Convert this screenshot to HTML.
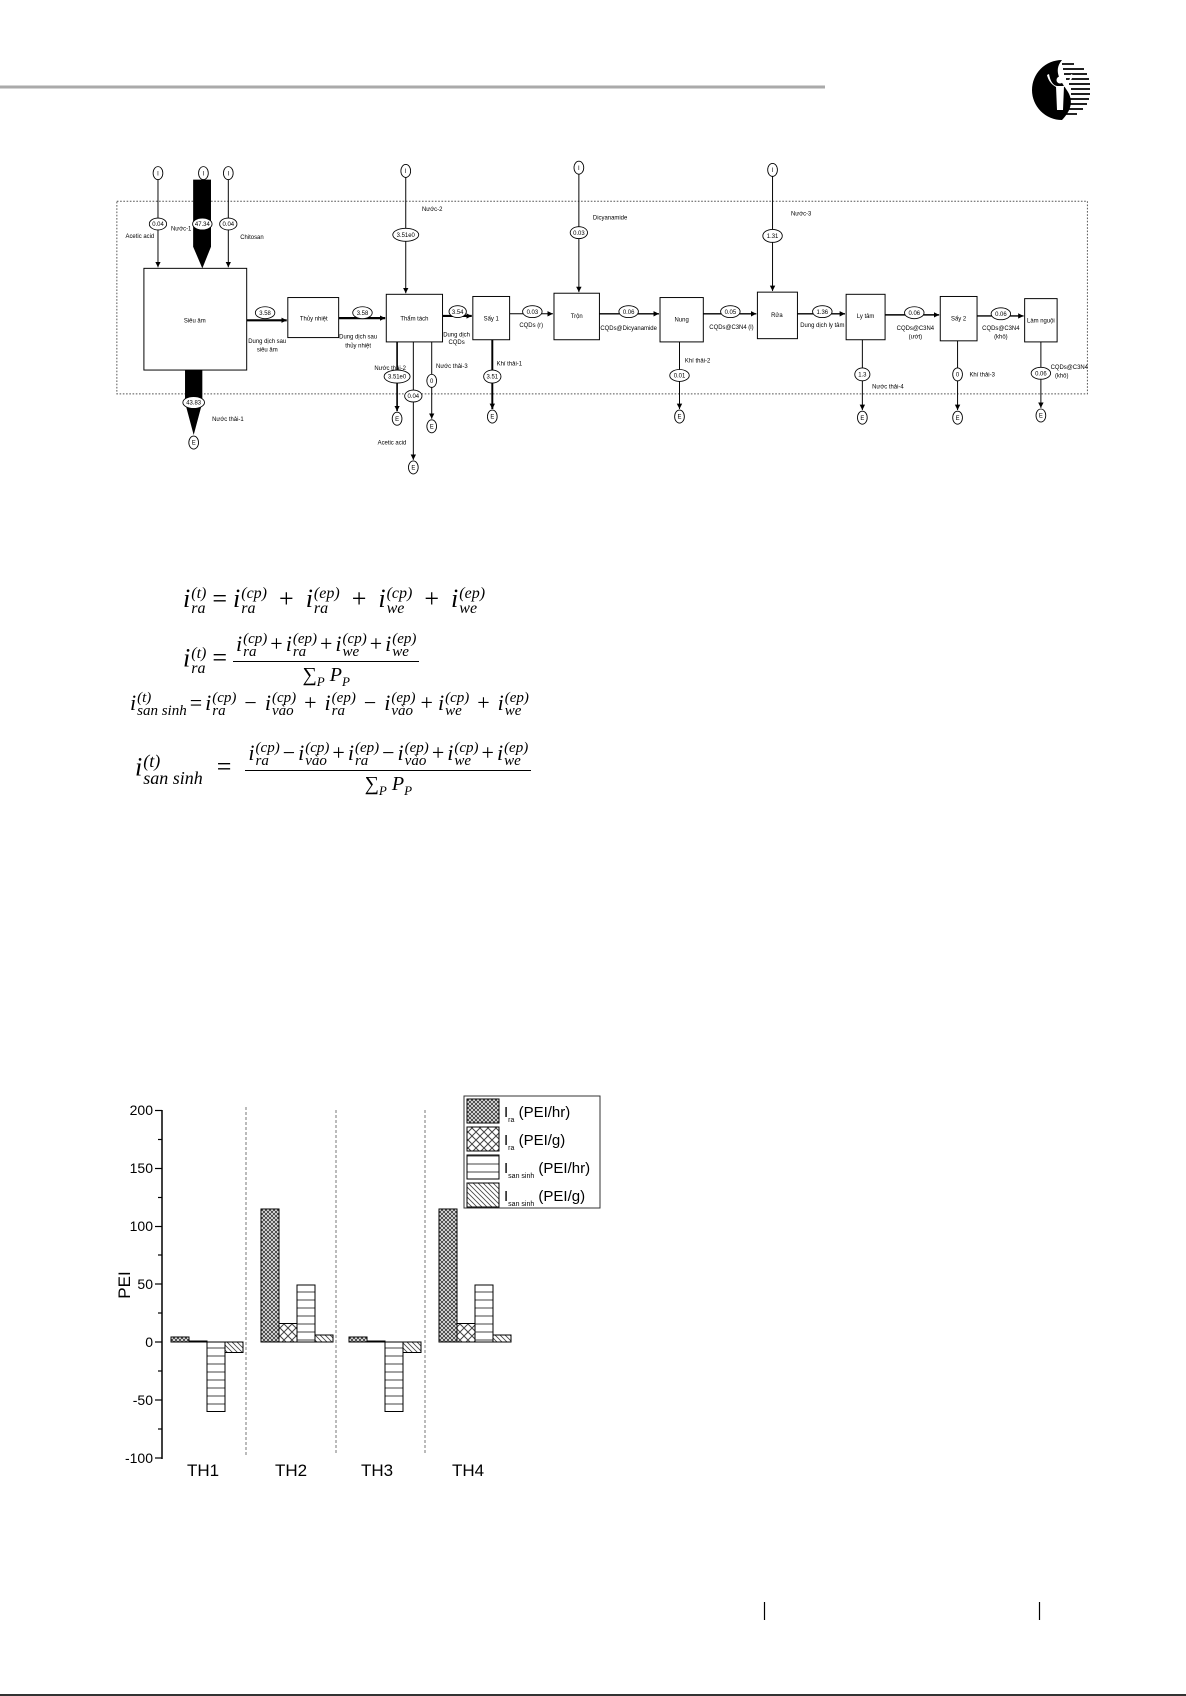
<!DOCTYPE html>
<html><head><meta charset="utf-8">
<style>
html,body{margin:0;padding:0;background:#fff;}
body{width:1186px;height:1696px;position:relative;overflow:hidden;}
svg{position:absolute;left:0;top:0;}
.eq{position:absolute;font-family:"Liberation Serif",serif;font-style:italic;font-size:26px;white-space:nowrap;line-height:1;color:#000}
.ss{display:inline-block;vertical-align:middle;font-size:16px;line-height:15px;text-align:left;margin-left:1px}
.ss span{display:block}
.op{font-style:normal;margin:0 6px}
.fr{display:inline-block;vertical-align:middle;text-align:center}
.num{border-bottom:1.5px solid #000;padding:0 3px 2px;display:block}
.den{display:block;padding-top:3px;font-size:20px}
.sm .ss{font-size:15px;line-height:13px}
.sm{font-size:22px}
</style></head>
<body>
<svg width="1186" height="1696" viewBox="0 0 1186 1696">
<line x1="0" y1="87" x2="825" y2="87" stroke="#aaa" stroke-width="3"/>
<!-- logo -->
<g transform="translate(1060,90)">
<g stroke="#000" stroke-width="1.7">
<line x1="2" y1="-26" x2="14" y2="-26"/><line x1="3" y1="-21" x2="24" y2="-21"/><line x1="4" y1="-16" x2="27" y2="-16"/><line x1="6" y1="-11" x2="29" y2="-11"/><line x1="9" y1="-6" x2="30" y2="-6"/><line x1="11" y1="-1" x2="30" y2="-1"/><line x1="11" y1="4" x2="30" y2="4"/><line x1="10" y1="9" x2="29" y2="9"/><line x1="8" y1="14" x2="27" y2="14"/><line x1="5" y1="19" x2="23" y2="19"/><line x1="2" y1="24" x2="17" y2="24"/>
</g>
<path d="M2,-30 A30,30 0 0 0 2,30 C10,22 14,12 8,2 C2,-8 -8,-18 2,-30Z" fill="#000"/>
<path d="M-4,-4 L4,-4 L3,20 L-3,20Z" fill="#fff"/>
<path d="M-11,-16 Q-9,-5 -3,-4 L-2,-2 Q-11,-6 -13,-15Z M11,-16 Q9,-5 3,-4 L2,-2 Q11,-6 13,-15Z" fill="#fff"/>
<circle cx="0" cy="-10" r="3.5" fill="#fff"/>
</g>

<g transform="scale(1.082)" font-family="Liberation Sans, sans-serif" font-size="6.5" fill="#000">
<defs>
<marker id="a" markerWidth="6" markerHeight="6" refX="5" refY="3" orient="auto" markerUnits="userSpaceOnUse"><path d="M0,0.5 L5,3 L0,5.5Z" fill="#000"/></marker>
</defs>
<rect x="108" y="186" width="897" height="178" fill="none" stroke="#555" stroke-width="0.9" stroke-dasharray="1.5,1.5"/>
<g fill="none" stroke="#000" stroke-width="0.9">
<rect x="133" y="248" width="95" height="94" fill="#fff"/>
<rect x="266" y="275" width="47" height="37"/>
<rect x="357" y="272" width="52" height="44"/>
<rect x="437" y="274" width="34" height="40"/>
<rect x="512" y="271" width="42" height="43"/>
<rect x="610" y="275" width="40" height="41"/>
<rect x="700" y="270" width="37" height="43"/>
<rect x="782" y="272" width="36" height="42"/>
<rect x="869" y="274" width="34" height="41"/>
<rect x="947" y="276" width="30" height="40"/>
<line x1="146" y1="166" x2="146" y2="247" marker-end="url(#a)"/>
<line x1="211" y1="166" x2="211" y2="247" marker-end="url(#a)"/>
<line x1="375" y1="164" x2="375" y2="271" marker-end="url(#a)"/>
<line x1="535" y1="161" x2="535" y2="270" marker-end="url(#a)"/>
<line x1="714" y1="163" x2="714" y2="269" marker-end="url(#a)"/>
<line x1="228" y1="296" x2="265" y2="296" stroke-width="2" marker-end="url(#a)"/>
<line x1="313" y1="294" x2="356" y2="294" stroke-width="2" marker-end="url(#a)"/>
<line x1="409" y1="292" x2="436" y2="292" stroke-width="2" marker-end="url(#a)"/>
<line x1="471" y1="290" x2="511" y2="290" marker-end="url(#a)"/>
<line x1="554" y1="290" x2="609" y2="290" stroke-width="1.3" marker-end="url(#a)"/>
<line x1="650" y1="290" x2="699" y2="290" stroke-width="1.3" marker-end="url(#a)"/>
<line x1="737" y1="290" x2="781" y2="290" stroke-width="1.3" marker-end="url(#a)"/>
<line x1="818" y1="291" x2="868" y2="291" stroke-width="1.3" marker-end="url(#a)"/>
<line x1="903" y1="292" x2="946" y2="292" stroke-width="1.3" marker-end="url(#a)"/>
<line x1="367" y1="316" x2="367" y2="380" stroke-width="1.5" marker-end="url(#a)"/>
<line x1="382" y1="316" x2="382" y2="425" marker-end="url(#a)"/>
<line x1="399" y1="316" x2="399" y2="387" marker-end="url(#a)"/>
<line x1="455" y1="314" x2="455" y2="378" stroke-width="1.8" marker-end="url(#a)"/>
<line x1="628" y1="316" x2="628" y2="378" marker-end="url(#a)"/>
<line x1="797" y1="314" x2="797" y2="379" marker-end="url(#a)"/>
<line x1="885" y1="315" x2="885" y2="379" marker-end="url(#a)"/>
<line x1="962" y1="316" x2="962" y2="377" marker-end="url(#a)"/>
</g>
<path d="M178.5,166 H195 V228 L187,248 L178.5,228Z" fill="#000"/>
<path d="M171,342 H187 V372 L179,402 L171,372Z" fill="#000"/>
<g fill="#fff" stroke="#000" stroke-width="0.8">
<ellipse cx="146" cy="160" rx="4.5" ry="6"/><ellipse cx="188" cy="160" rx="4.5" ry="6"/><ellipse cx="211" cy="160" rx="4.5" ry="6"/>
<ellipse cx="375" cy="158" rx="4.5" ry="6"/><ellipse cx="535" cy="155" rx="4.5" ry="6"/><ellipse cx="714" cy="157" rx="4.5" ry="6"/>
<ellipse cx="179" cy="409" rx="4.5" ry="6"/><ellipse cx="367" cy="387" rx="4.5" ry="6"/><ellipse cx="382" cy="432" rx="4.5" ry="6"/><ellipse cx="399" cy="394" rx="4.5" ry="6"/>
<ellipse cx="455" cy="385" rx="4.5" ry="6"/><ellipse cx="628" cy="385" rx="4.5" ry="6"/><ellipse cx="797" cy="386" rx="4.5" ry="6"/><ellipse cx="885" cy="386" rx="4.5" ry="6"/><ellipse cx="962" cy="384" rx="4.5" ry="6"/>
<ellipse cx="146" cy="207" rx="8" ry="5.5"/><ellipse cx="187" cy="207" rx="9" ry="5.5"/><ellipse cx="211" cy="207" rx="8" ry="5.5"/>
<ellipse cx="179" cy="372" rx="10" ry="5.5"/>
<ellipse cx="245" cy="289" rx="9" ry="5.5"/><ellipse cx="335" cy="289" rx="9" ry="5.5"/>
<ellipse cx="375" cy="217" rx="12" ry="6"/>
<ellipse cx="423" cy="288" rx="8" ry="5.5"/>
<ellipse cx="367" cy="348" rx="12" ry="6"/><ellipse cx="382" cy="366" rx="8" ry="5.5"/><ellipse cx="399" cy="352" rx="4.5" ry="6"/>
<ellipse cx="455" cy="348" rx="8" ry="6"/>
<ellipse cx="492" cy="288" rx="9" ry="5.5"/><ellipse cx="535" cy="215" rx="8" ry="5.5"/>
<ellipse cx="581" cy="288" rx="9" ry="5.5"/><ellipse cx="628" cy="347" rx="9" ry="5.5"/>
<ellipse cx="675" cy="288" rx="9" ry="5.5"/><ellipse cx="714" cy="218" rx="9" ry="6"/>
<ellipse cx="760" cy="288" rx="9" ry="5.5"/><ellipse cx="797" cy="346" rx="7" ry="6"/>
<ellipse cx="845" cy="289" rx="9" ry="5.5"/><ellipse cx="885" cy="346" rx="4.5" ry="6"/>
<ellipse cx="925" cy="290" rx="9" ry="5.5"/><ellipse cx="962" cy="345" rx="9" ry="5.5"/>
</g>
<g text-anchor="middle" font-size="5.5">
<text x="146" y="162">I</text><text x="188" y="162">I</text><text x="211" y="162">I</text><text x="375" y="160">I</text><text x="535" y="157">I</text><text x="714" y="159">I</text>
<text x="179" y="411">E</text><text x="367" y="389">E</text><text x="382" y="434">E</text><text x="399" y="396">E</text><text x="455" y="387">E</text><text x="628" y="387">E</text><text x="797" y="388">E</text><text x="885" y="388">E</text><text x="962" y="386">E</text>
<text x="146" y="209">0.04</text><text x="187" y="209">47.34</text><text x="211" y="209">0.04</text><text x="179" y="374">43.83</text>
<text x="245" y="291">3.58</text><text x="335" y="291">3.58</text><text x="375" y="219">3.51e0</text><text x="423" y="290">3.54</text>
<text x="367" y="350">3.51e0</text><text x="382" y="368">0.04</text><text x="399" y="354">0</text><text x="455" y="350">3.51</text>
<text x="492" y="290">0.03</text><text x="535" y="217">0.03</text><text x="581" y="290">0.06</text><text x="628" y="349">0.01</text>
<text x="675" y="290">0.05</text><text x="714" y="220">1.31</text><text x="760" y="290">1.36</text><text x="797" y="348">1.3</text>
<text x="845" y="291">0.06</text><text x="885" y="348">0</text><text x="925" y="292">0.06</text><text x="962" y="347">0.06</text>
<text x="180" y="298">Siêu âm</text><text x="290" y="296">Thủy nhiệt</text><text x="383" y="296">Thẩm tách</text><text x="454" y="296">Sấy 1</text>
<text x="533" y="294">Trộn</text><text x="630" y="297">Nung</text><text x="718" y="293">Rửa</text><text x="800" y="294">Ly tâm</text><text x="886" y="296">Sấy 2</text><text x="962" y="298">Làm nguội</text>
<text x="247" y="317">Dung dịch sau</text><text x="247" y="325">siêu âm</text>
<text x="331" y="313">Dung dịch sau</text><text x="331" y="321">thủy nhiệt</text>
<text x="422" y="311">Dung dịch</text><text x="422" y="318">CQDs</text>
<text x="491" y="302">CQDs (r)</text><text x="581" y="305">CQDs@Dicyanamide</text><text x="676" y="304">CQDs@C3N4 (l)</text>
<text x="760" y="302">Dung dịch ly tâm</text>
<text x="846" y="305">CQDs@C3N4</text><text x="846" y="313">(ướt)</text>
<text x="925" y="305">CQDs@C3N4</text><text x="925" y="313">(khô)</text>
</g>
<g font-size="5.5">
<text x="116" y="220">Acetic acid</text><text x="158" y="213">Nước-1</text><text x="222" y="221">Chitosan</text>
<text x="196" y="389">Nước thải-1</text><text x="390" y="195">Nước-2</text>
<text x="346" y="342">Nước thải-2</text><text x="349" y="411">Acetic acid</text><text x="403" y="340">Nước thải-3</text>
<text x="459" y="338">Khí thải-1</text><text x="548" y="203">Dicyanamide</text><text x="633" y="335">Khí thải-2</text>
<text x="731" y="199">Nước-3</text><text x="806" y="359">Nước thải-4</text><text x="896" y="348">Khí thải-3</text>
<text x="971" y="341">CQDs@C3N4</text><text x="975" y="349">(khô)</text>
</g>
</g>

<defs>
<pattern id="p1" width="4" height="4" patternUnits="userSpaceOnUse"><rect width="4" height="4" fill="#fff"/><path d="M0,0 L4,4 M4,0 L0,4" stroke="#444" stroke-width="1"/></pattern>
<pattern id="p2" width="8" height="8" patternUnits="userSpaceOnUse"><rect width="8" height="8" fill="#fff"/><path d="M0,0 L8,8 M8,0 L0,8" stroke="#444" stroke-width="1"/></pattern>
<pattern id="p3" width="10" height="8" patternUnits="userSpaceOnUse"><rect width="10" height="8" fill="#fff"/><line x1="0" y1="4" x2="10" y2="4" stroke="#444" stroke-width="1"/></pattern>
<pattern id="p4" width="5" height="5" patternUnits="userSpaceOnUse"><rect width="5" height="5" fill="#fff"/><path d="M0,0 L5,5 M-1,4 L1,6 M4,-1 L6,1" stroke="#444" stroke-width="0.8"/></pattern>
</defs>
<g font-family="Liberation Sans, sans-serif" fill="#000">
<line x1="162" y1="1110" x2="162" y2="1459" stroke="#000" stroke-width="1.5"/>
<g stroke="#000" stroke-width="1.2">
<line x1="155" y1="1110.5" x2="162" y2="1110.5"/><line x1="155" y1="1168.5" x2="162" y2="1168.5"/><line x1="155" y1="1226.5" x2="162" y2="1226.5"/><line x1="155" y1="1284" x2="162" y2="1284"/><line x1="155" y1="1342" x2="162" y2="1342"/><line x1="155" y1="1400" x2="162" y2="1400"/><line x1="155" y1="1458" x2="162" y2="1458"/>
<line x1="158" y1="1139.5" x2="162" y2="1139.5"/><line x1="158" y1="1197.5" x2="162" y2="1197.5"/><line x1="158" y1="1255" x2="162" y2="1255"/><line x1="158" y1="1313" x2="162" y2="1313"/><line x1="158" y1="1371" x2="162" y2="1371"/><line x1="158" y1="1429" x2="162" y2="1429"/>
</g>
<g font-size="14" text-anchor="end">
<text x="153" y="1115">200</text><text x="153" y="1173">150</text><text x="153" y="1231">100</text><text x="153" y="1289">50</text><text x="153" y="1347">0</text><text x="153" y="1405">-50</text><text x="153" y="1463">-100</text>
</g>
<text x="0" y="0" font-size="17" transform="translate(130,1285) rotate(-90)" text-anchor="middle">PEI</text>
<g stroke="#777" stroke-width="1" stroke-dasharray="3,2">
<line x1="246" y1="1107" x2="246" y2="1455"/><line x1="336" y1="1110" x2="336" y2="1455"/><line x1="425" y1="1110" x2="425" y2="1455"/>
</g>
<g stroke="#000" stroke-width="1">
<rect x="171" y="1337" width="18" height="5" fill="url(#p1)"/>
<rect x="189" y="1341" width="18" height="1" fill="#000"/>
<rect x="207" y="1342" width="18" height="69.5" fill="url(#p3)"/>
<rect x="225" y="1342" width="18" height="10.5" fill="url(#p4)"/>
<rect x="261" y="1209" width="18" height="133" fill="url(#p1)"/>
<rect x="279" y="1323.5" width="18" height="18.5" fill="url(#p2)"/>
<rect x="297" y="1285" width="18" height="57" fill="url(#p3)"/>
<rect x="315" y="1335" width="18" height="7" fill="url(#p4)"/>
<rect x="349" y="1337" width="18" height="5" fill="url(#p1)"/>
<rect x="367" y="1341" width="18" height="1" fill="#000"/>
<rect x="385" y="1342" width="18" height="69.5" fill="url(#p3)"/>
<rect x="403" y="1342" width="18" height="10.5" fill="url(#p4)"/>
<rect x="439" y="1209" width="18" height="133" fill="url(#p1)"/>
<rect x="457" y="1323.5" width="18" height="18.5" fill="url(#p2)"/>
<rect x="475" y="1285" width="18" height="57" fill="url(#p3)"/>
<rect x="493" y="1335" width="18" height="7" fill="url(#p4)"/>
</g>
<g font-size="17" text-anchor="middle">
<text x="203" y="1476">TH1</text><text x="291" y="1476">TH2</text><text x="377" y="1476">TH3</text><text x="468" y="1476">TH4</text>
</g>
<rect x="464" y="1096" width="136" height="112" fill="#fff" stroke="#333" stroke-width="1"/>
<g stroke="#000" stroke-width="1">
<rect x="467" y="1099" width="32" height="24" fill="url(#p1)"/>
<rect x="467" y="1127" width="32" height="24" fill="url(#p2)"/>
<rect x="467" y="1155" width="32" height="24" fill="url(#p3)"/>
<rect x="467" y="1183" width="32" height="24" fill="url(#p4)"/>
</g>
<g font-size="15">
<text x="504" y="1117">I<tspan font-size="7" dy="5">ra</tspan><tspan dy="-5"> (PEI/hr)</tspan></text>
<text x="504" y="1145">I<tspan font-size="7" dy="5">ra</tspan><tspan dy="-5"> (PEI/g)</tspan></text>
<text x="504" y="1173">I<tspan font-size="7" dy="5">san sinh</tspan><tspan dy="-5"> (PEI/hr)</tspan></text>
<text x="504" y="1201">I<tspan font-size="7" dy="5">san sinh</tspan><tspan dy="-5"> (PEI/g)</tspan></text>
</g>
</g>
<line x1="764.5" y1="1602" x2="764.5" y2="1620" stroke="#000" stroke-width="1.2"/>
<line x1="1039.5" y1="1602" x2="1039.5" y2="1620" stroke="#000" stroke-width="1.2"/>
<line x1="0" y1="1695" x2="1186" y2="1695" stroke="#333" stroke-width="2"/>
</svg>

<div class="eq" style="left:183px;top:586px">i<span class="ss"><span>(t)</span><span>ra</span></span><span class="op">=</span>i<span class="ss"><span>(cp)</span><span>ra</span></span><span class="op" style="margin:0 12px">+</span>i<span class="ss"><span>(ep)</span><span>ra</span></span><span class="op" style="margin:0 12px">+</span>i<span class="ss"><span>(cp)</span><span>we</span></span><span class="op" style="margin:0 12px">+</span>i<span class="ss"><span>(ep)</span><span>we</span></span></div>

<div class="eq" style="left:183px;top:633px">i<span class="ss"><span>(t)</span><span>ra</span></span><span class="op">=</span><span class="fr"><span class="num sm">i<span class="ss"><span>(cp)</span><span>ra</span></span><span class="op" style="margin:0 3px">+</span>i<span class="ss"><span>(ep)</span><span>ra</span></span><span class="op" style="margin:0 3px">+</span>i<span class="ss"><span>(cp)</span><span>we</span></span><span class="op" style="margin:0 3px">+</span>i<span class="ss"><span>(ep)</span><span>we</span></span></span><span class="den"><span style="font-style:normal">∑</span><sub style="font-size:13px">P</sub> P<sub style="font-size:13px">P</sub></span></span></div>

<div class="eq sm" style="left:130px;top:692px">i<span class="ss"><span>(t)</span><span>san sinh</span></span><span class="op" style="margin:0 3px">=</span>i<span class="ss"><span>(cp)</span><span>ra</span></span><span class="op" style="margin:0 8px">−</span>i<span class="ss"><span>(cp)</span><span>vào</span></span><span class="op" style="margin:0 8px">+</span>i<span class="ss"><span>(ep)</span><span>ra</span></span><span class="op" style="margin:0 8px">−</span>i<span class="ss"><span>(ep)</span><span>vào</span></span><span class="op" style="margin:0 5px">+</span>i<span class="ss"><span>(cp)</span><span>we</span></span><span class="op" style="margin:0 8px">+</span>i<span class="ss"><span>(ep)</span><span>we</span></span></div>

<div class="eq" style="left:135px;top:742px">i<span class="ss" style="font-size:18px;line-height:17px"><span>(t)</span><span>san sinh</span></span><span class="op" style="margin:0 14px">=</span><span class="fr"><span class="num sm">i<span class="ss"><span>(cp)</span><span>ra</span></span><span class="op" style="margin:0 3px">−</span>i<span class="ss"><span>(cp)</span><span>vào</span></span><span class="op" style="margin:0 3px">+</span>i<span class="ss"><span>(ep)</span><span>ra</span></span><span class="op" style="margin:0 3px">−</span>i<span class="ss"><span>(ep)</span><span>vào</span></span><span class="op" style="margin:0 3px">+</span>i<span class="ss"><span>(cp)</span><span>we</span></span><span class="op" style="margin:0 3px">+</span>i<span class="ss"><span>(ep)</span><span>we</span></span></span><span class="den"><span style="font-style:normal">∑</span><sub style="font-size:13px">P</sub> P<sub style="font-size:13px">P</sub></span></span></div>
</body></html>
